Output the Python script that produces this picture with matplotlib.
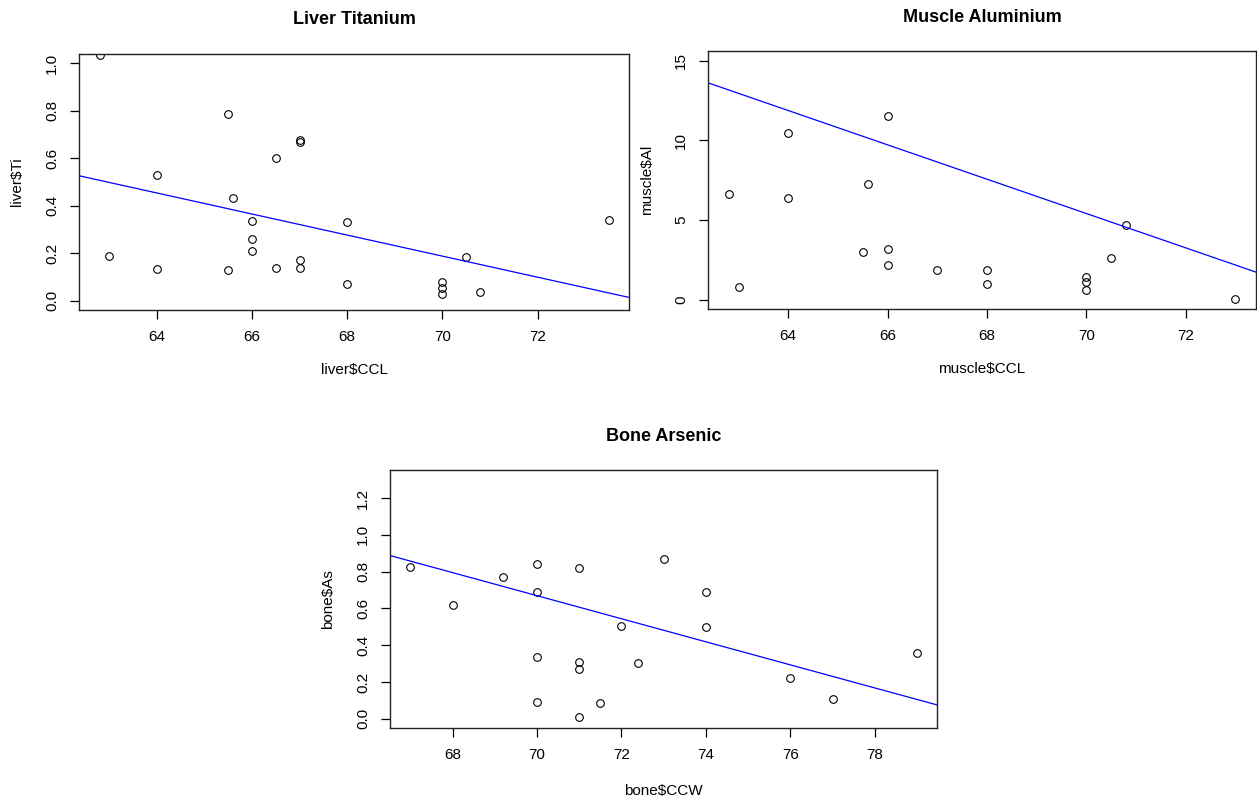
#python 3 script
import matplotlib
matplotlib.use('Agg')
import matplotlib.pyplot as plt
import numpy as np

plt.rcParams['font.family'] = ['Liberation Sans', 'DejaVu Sans']

# liver data (CCL vs Ti)
liver_ccl = [62.8, 63.0, 64.0, 64.0, 65.5, 65.5, 65.6, 66.0, 66.0, 66.0, 66.5, 66.5,
             67.0, 67.0, 67.0, 67.0, 68.0, 68.0, 70.0, 70.0, 70.0, 70.5, 70.8, 73.5]
liver_ti = [1.035, 0.19, 0.53, 0.133, 0.785, 0.131, 0.431, 0.337, 0.26, 0.211, 0.601, 0.14,
            0.678, 0.669, 0.171, 0.14, 0.33, 0.071, 0.08, 0.052, 0.029, 0.186, 0.036, 0.34]
liver_fit = (3.289, -0.0443)   # intercept, slope

# muscle data (CCL vs Al)
muscle_ccl = [62.8, 63.0, 64.0, 64.0, 65.5, 65.6, 66.0, 66.0, 66.0, 67.0, 68.0, 68.0,
              70.0, 70.0, 70.0, 70.5, 70.8, 73.0]
muscle_al = [6.66, 0.81, 10.49, 6.36, 3.0, 7.28, 11.52, 3.17, 2.19, 1.86, 1.86, 1.0,
             1.42, 1.13, 0.61, 2.63, 4.67, 0.02]
muscle_fit = (80.80, -1.077)

# bone data (CCW vs As)
bone_ccw = [67.0, 68.0, 69.2, 70.0, 70.0, 70.0, 70.0, 71.0, 71.0, 71.0, 71.0, 71.5,
            72.0, 72.4, 73.0, 74.0, 74.0, 76.0, 77.0, 79.0]
bone_as = [0.824, 0.62, 0.772, 0.839, 0.69, 0.338, 0.089, 0.819, 0.311, 0.273, 0.009, 0.085,
           0.506, 0.305, 0.868, 0.689, 0.499, 0.219, 0.108, 0.358]
bone_fit = (5.058, -0.0627)

# R style axis range (4% padding)
def rlim(lo, hi):
    d = (hi - lo) * 0.04
    return lo - d, hi + d

def rplot(ax, x, y, fit, ylim, yticks, yfmt, title, xlab, ylab):
    ax.plot(x, y, 'o', mfc='none', mec='black', ms=5.5, mew=0.8)
    ax.axline((0, fit[0]), slope=fit[1], color='#0000ff', lw=0.9)
    ax.set_xlim(rlim(min(x), max(x)))
    ax.set_ylim(rlim(*ylim))
    ax.set_yticks(yticks)
    ax.set_yticklabels([yfmt % t for t in yticks], rotation=90, va='center')
    ax.tick_params(direction='out', length=6.5, width=0.9, labelsize=11, pad=8)
    ax.tick_params(axis='x', pad=8)
    for s in ax.spines.values():
        s.set_linewidth(1.0)
        s.set_color('#222222')
    ax.set_title(title, fontsize=13, fontweight='bold', pad=21)
    ax.set_xlabel(xlab, fontsize=11)
    ax.set_ylabel(ylab, fontsize=11)
    ax.xaxis.set_label_coords(0.5, -0.205)
    ax.yaxis.set_label_coords(-0.100, 0.5)

fig = plt.figure(figsize=(12.57, 8.02), dpi=100)

ax1 = fig.add_axes([0.0631, 0.6131, 0.4375, 0.3200])
rplot(ax1, liver_ccl, liver_ti, liver_fit, (0, 1), [0, 0.2, 0.4, 0.6, 0.8, 1.0], '%.1f',
      'Liver Titanium', 'liver$CCL', 'liver$Ti')
ax1.set_xticks([64, 66, 68, 70, 72])

ax2 = fig.add_axes([0.5635, 0.6143, 0.4355, 0.3220])
rplot(ax2, muscle_ccl, muscle_al, muscle_fit, (0, 15), [0, 5, 10, 15], '%d',
      'Muscle Aluminium', 'muscle$CCL', 'muscle$Al')
ax2.set_xticks([64, 66, 68, 70, 72])

ax3 = fig.add_axes([0.3103, 0.0919, 0.4354, 0.3220])
rplot(ax3, bone_ccw, bone_as, bone_fit, (0, 1.3), [0, 0.2, 0.4, 0.6, 0.8, 1.0, 1.2], '%.1f',
      'Bone Arsenic', 'bone$CCW', 'bone$As')
ax3.set_xticks([68, 70, 72, 74, 76, 78])
ax3.xaxis.set_label_coords(0.5, -0.216)

plt.savefig('out.png', dpi=100)
